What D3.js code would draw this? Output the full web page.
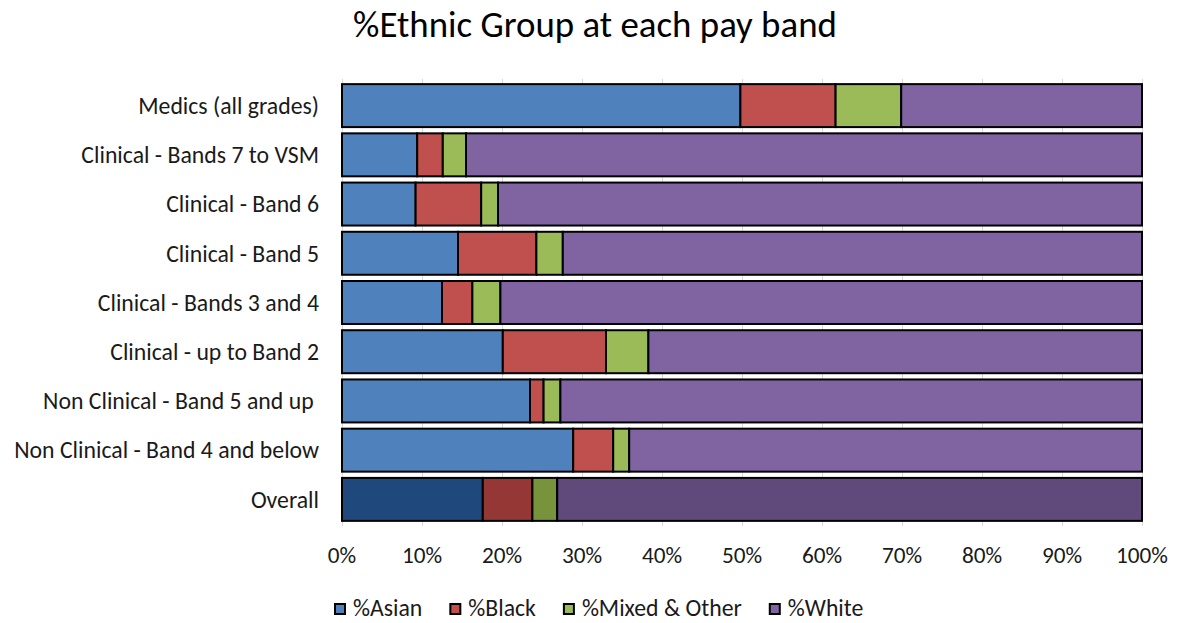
<!DOCTYPE html>
<html>
<head>
<meta charset="utf-8">
<script src="https://cdn.jsdelivr.net/npm/d3@7"></script>
<style>
  html, body { margin: 0; padding: 0; background: #fff; }
  svg { display: block; }
  text { font-family: Carlito, Lato, "Open Sans", sans-serif; }
</style>
</head>
<body>
<svg id="chart" width="1179" height="623"></svg>
<script>
// Pay band categories, top to bottom
const categories = [
  "Medics (all grades)",
  "Clinical - Bands 7 to VSM",
  "Clinical - Band 6",
  "Clinical - Band 5",
  "Clinical - Bands 3 and 4",
  "Clinical - up to Band 2",
  "Non Clinical - Band 5 and up ",
  "Non Clinical - Band 4 and below",
  "Overall"
];

// Share of staff (%) in each ethnic group
const asian = [49.8, 9.4, 9.2, 14.5, 12.5, 20.1, 23.5, 28.9, 17.6];
const black = [11.9, 3.2, 8.2, 9.8, 3.8, 12.9, 1.7, 5.0, 6.2];
const mixedOther = [8.2, 2.9, 2.1, 3.3, 3.5, 5.3, 2.1, 2.0, 3.1];
const white = [30.1, 84.5, 80.5, 72.4, 80.2, 61.7, 72.7, 64.1, 73.1];

const seriesNames = ["%Asian", "%Black", "%Mixed & Other", "%White"];
const tickValues = [0, 10, 20, 30, 40, 50, 60, 70, 80, 90, 100];

const colors = ["#4f81bd", "#c0504d", "#9bbb59", "#8064a2"];
const darkColors = ["#1f497d", "#953735", "#77933c", "#604a7b"];

const svg = d3.select("#chart");

// Build rows for stacking
const rows = categories.map((c, i) => ({
  category: c,
  "%Asian": asian[i],
  "%Black": black[i],
  "%Mixed & Other": mixedOther[i],
  "%White": white[i]
}));
const stacked = d3.stack().keys(seriesNames)(rows);

const x = d3.scaleLinear().domain([0, 100]).range([342, 1142]);
const y = d3.scaleBand().domain(categories).range([81, 524])
  .paddingInner(0.127).paddingOuter(0.0635);

// Scale a text group's font so a sample string reaches a given width
function fitFont(sample, targetWidth, weight) {
  const t = svg.append("text").attr("font-size", 100)
    .attr("font-weight", weight || "normal").text(sample);
  const w = t.node().getComputedTextLength();
  t.remove();
  return 100 * targetWidth / w;
}

const titleSize = fitFont("%Ethnic Group at each pay band", 484);
const labelSize = fitFont("Non Clinical - Band 4 and below", 305);
const tickSize = fitFont("100%", 52);
const legendSize = fitFont("%Mixed & Other", 160);

// Title
svg.append("text")
  .attr("x", 595).attr("y", 37)
  .attr("text-anchor", "middle")
  .attr("font-size", titleSize)
  .attr("fill", "#000")
  .text("%Ethnic Group at each pay band");

// Vertical gridlines and axis line
const grid = svg.append("g");
grid.selectAll("line").data(tickValues).join("line")
  .attr("x1", d => x(d) + 0.5).attr("x2", d => x(d) + 0.5)
  .attr("y1", 79).attr("y2", 526)
  .attr("stroke", "#d9d9d9").attr("stroke-width", 1);

// Stacked bars
const last = categories.length - 1;
svg.append("g").selectAll("g").data(stacked).join("g")
  .each(function (layer, si) {
    d3.select(this).selectAll("rect").data(layer).join("rect")
      .attr("x", d => x(d[0]))
      .attr("y", d => y(d.data.category))
      .attr("width", d => x(d[1]) - x(d[0]))
      .attr("height", y.bandwidth())
      .attr("fill", (d, i) => i === last ? darkColors[si] : colors[si])
      .attr("stroke", "#000")
      .attr("stroke-width", 2);
  });

// Category labels
svg.append("g").selectAll("text").data(categories).join("text")
  .attr("x", 319)
  .attr("y", d => y(d) + y.bandwidth() / 2)
  .attr("dy", "0.35em")
  .attr("text-anchor", "end")
  .attr("font-size", labelSize)
  .attr("fill", "#1a1a1a")
  .style("white-space", "pre")
  .text(d => d);

// Percentage axis labels
svg.append("g").selectAll("text").data(tickValues).join("text")
  .attr("x", d => x(d))
  .attr("y", 563)
  .attr("text-anchor", "middle")
  .attr("font-size", tickSize)
  .attr("fill", "#1a1a1a")
  .text(d => d + "%");

// Legend
const legend = svg.append("g");
let lx = 335;
seriesNames.forEach((name, i) => {
  legend.append("rect")
    .attr("x", lx).attr("y", 604)
    .attr("width", 10).attr("height", 10)
    .attr("fill", colors[i])
    .attr("stroke", "#000").attr("stroke-width", 2);
  const t = legend.append("text")
    .attr("x", lx + 18).attr("y", 616)
    .attr("font-size", legendSize)
    .attr("fill", "#1a1a1a")
    .text(name);
  lx = lx + 18 + t.node().getComputedTextLength() + 28;
});
</script>
</body>
</html>
